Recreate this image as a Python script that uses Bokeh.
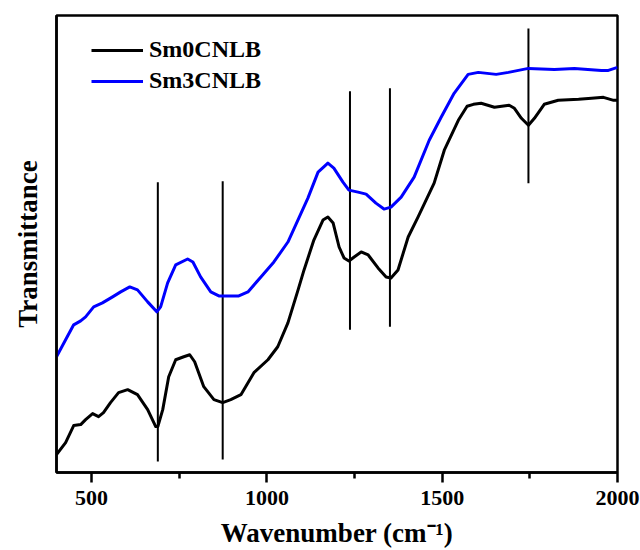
from bokeh.plotting import figure
from bokeh.models import Legend, LegendItem, FixedTicker, Range1d
from bokeh.embed import file_html
from bokeh.resources import INLINE

# FTIR spectra: wavenumber (cm^-1) and transmittance (arbitrary units)
wn_sm0 = [400, 426, 449, 469, 483, 503, 520, 534, 554, 577, 603, 631, 660, 683, 689,
          703, 720, 740, 763, 780, 794, 820, 849, 874, 897, 926, 963, 1003, 1031, 1060,
          1089, 1106, 1134, 1160, 1174, 1189, 1206, 1220, 1234, 1249, 1269, 1289, 1317,
          1340, 1354, 1374, 1403, 1431, 1477, 1506, 1546, 1571, 1589, 1611, 1649, 1691,
          1706, 1726, 1746, 1763, 1791, 1831, 1889, 1926, 1960, 1989, 2000]
t_sm0 = [18, 30, 47, 48, 53, 59, 56, 60, 70, 80, 83, 78, 63, 46, 46,
         63, 96, 113, 116, 118, 111, 86, 73, 70, 73, 78, 100, 113, 126, 150,
         183, 203, 233, 253, 256, 250, 226, 215, 212, 216, 221, 218, 205,
         196, 195, 203, 236, 256, 290, 323, 353, 367, 369, 370, 366, 368,
         365, 355, 348, 355, 369, 373, 374, 375, 376, 373, 373]

wn_sm3 = [400, 426, 449, 469, 483, 506, 531, 560, 583, 609, 631, 660, 686, 697, 717,
          740, 774, 789, 811, 840, 863, 920, 946, 983, 1020, 1060, 1117, 1146, 1174, 1191,
          1217, 1234, 1260, 1283, 1311, 1334, 1354, 1383, 1420, 1463, 1497, 1534, 1574,
          1603, 1654, 1689, 1746, 1820, 1877, 1954, 1974, 2000]
t_sm3 = [116, 133, 148, 152, 156, 166, 170, 176, 181, 186, 183, 171, 161, 166, 190,
         208, 214, 211, 196, 181, 177, 177, 181, 196, 211, 231, 275, 301, 310, 305,
         291, 283, 281, 279, 270, 264, 266, 276, 296, 333, 356, 380, 399,
         401, 399, 401, 405, 404, 405, 403, 403, 406]

# band marker lines
band_wn = [689, 874, 1237, 1351, 1746]
band_lo = [11, 13, 143, 146, 290]
band_hi = [291, 292, 382, 385, 445]

x_ticks = [500, 1000, 1500, 2000]
x_minor = [750, 1250, 1750]

FONT = "Liberation Serif"

p = figure(width=640, height=550, output_backend="svg", toolbar_location=None,
           x_range=Range1d(400, 2000), y_range=Range1d(0, 458))
p.min_border_left = 56
p.min_border_right = 23
p.min_border_top = 15
p.min_border_bottom = 77
p.background_fill_color = "white"
p.border_fill_color = "white"
p.grid.visible = False
p.outline_line_color = "black"
p.outline_line_width = 2.5

p.segment(x0=band_wn, y0=band_lo, x1=band_wn, y1=band_hi, line_color="black", line_width=2)

r0 = p.line(wn_sm0, t_sm0, line_color="black", line_width=3, line_join="round")
r3 = p.line(wn_sm3, t_sm3, line_color="#0000ff", line_width=3, line_join="round")

# x axis
xa = p.xaxis[0]
xa.ticker = FixedTicker(ticks=x_ticks, minor_ticks=x_minor)
xa.axis_line_width = 2.5
xa.major_tick_line_width = 2.5
xa.minor_tick_line_width = 2.5
xa.major_tick_out = 10
xa.major_tick_in = 0
xa.minor_tick_out = 6
xa.minor_tick_in = 0
xa.major_label_text_font = FONT
xa.major_label_text_font_style = "bold"
xa.major_label_text_font_size = "22px"
xa.major_label_text_color = "black"
xa.major_label_standoff = 8
xa.axis_label = "Wavenumber (cm\u207b\u00b9)"
xa.axis_label_text_font = FONT
xa.axis_label_text_font_style = "bold"
xa.axis_label_text_font_size = "27px"
xa.axis_label_text_color = "black"
xa.axis_label_standoff = 10

# y axis: label only, no ticks
ya = p.yaxis[0]
ya.ticker = FixedTicker(ticks=[], minor_ticks=[])
ya.axis_line_width = 2.5
ya.major_tick_line_color = None
ya.minor_tick_line_color = None
ya.axis_label = "Transmittance"
ya.axis_label_text_font = FONT
ya.axis_label_text_font_style = "bold"
ya.axis_label_text_font_size = "27px"
ya.axis_label_text_color = "black"
ya.axis_label_standoff = 14

legend = Legend(items=[LegendItem(label="Sm0CNLB", renderers=[r0]),
                       LegendItem(label="Sm3CNLB", renderers=[r3])],
                location=(35, 378))
legend.border_line_color = None
legend.background_fill_alpha = 0
legend.padding = 0
legend.margin = 0
legend.spacing = 4
legend.glyph_width = 52
legend.glyph_height = 26
legend.label_height = 26
legend.label_standoff = 6
legend.label_text_font = FONT
legend.label_text_font_style = "bold"
legend.label_text_font_size = "24px"
legend.label_text_color = "black"
p.add_layout(legend)

open("out.html", "w").write(file_html(p, INLINE))
